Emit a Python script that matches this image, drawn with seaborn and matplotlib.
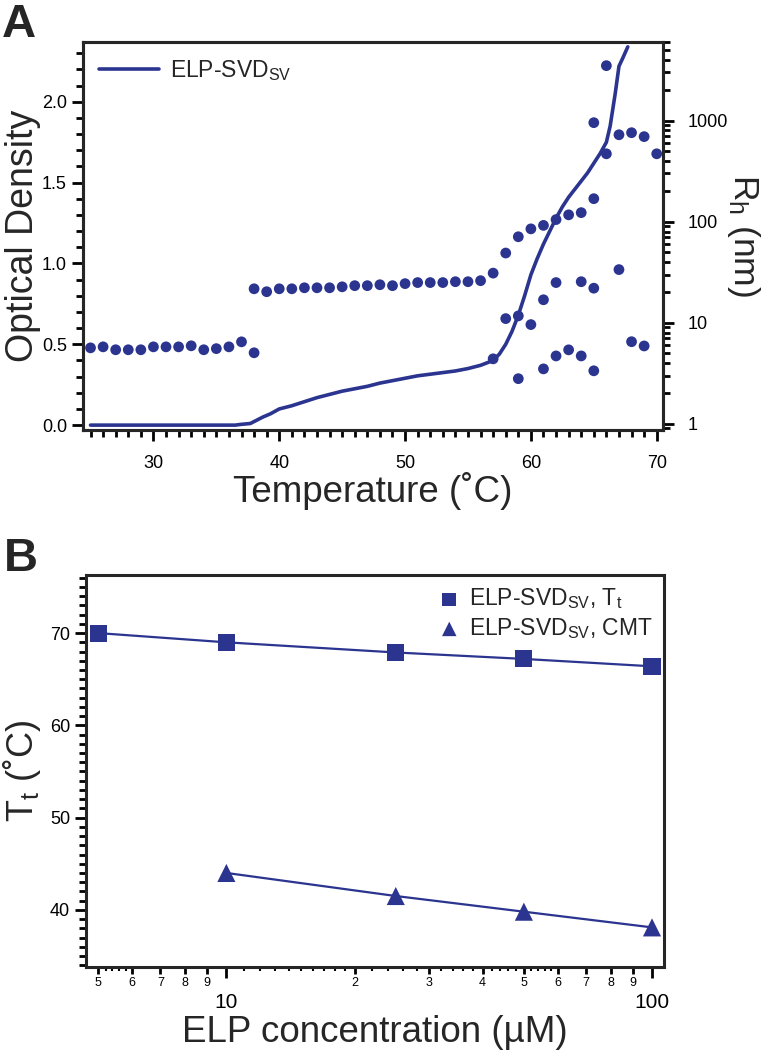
import numpy as np
import pandas as pd
import seaborn as sns
import matplotlib.pyplot as plt
from matplotlib.ticker import MultipleLocator, LogLocator, FixedLocator, NullFormatter, FuncFormatter

# panel A - optical density trace (left axis)
od_temp = [25, 36.5, 37, 37.7, 38.2, 38.7, 39.3, 40, 41, 42, 43, 44, 45, 46, 47, 48,
           49, 50, 51, 52, 53, 54, 55, 56, 57, 57.5, 58, 58.5, 59, 59.5, 60, 60.5,
           61, 61.5, 62, 62.5, 63, 63.5, 64, 64.5, 65, 65.5, 66, 66.3, 66.7, 67, 67.3, 67.7]
od_val = [0.0, 0.0, 0.005, 0.01, 0.03, 0.05, 0.07, 0.10, 0.12, 0.145, 0.17, 0.19, 0.21, 0.225,
          0.24, 0.26, 0.275, 0.29, 0.305, 0.315, 0.325, 0.335, 0.35, 0.37, 0.40, 0.44, 0.50,
          0.58, 0.68, 0.80, 0.93, 1.03, 1.12, 1.20, 1.28, 1.35, 1.41, 1.46, 1.51, 1.56, 1.62,
          1.68, 1.75, 1.85, 2.05, 2.22, 2.27, 2.34]

# panel A - hydrodynamic radius (right axis, nm)
rh_temp = list(range(25, 39)) + list(range(38, 58)) + [
    57, 58, 58, 59, 59, 59, 60, 60, 61, 61, 61, 62, 62, 62, 63, 63, 64, 64, 64,
    65, 65, 65, 65, 66, 66, 67, 67, 68, 68, 69, 69, 70]
rh_val = [5.65, 5.78, 5.41, 5.41, 5.41, 5.78, 5.78, 5.78, 5.92, 5.41, 5.55, 5.78, 6.48, 5.05,
          21.7, 20.3, 21.7, 21.7, 22.2, 22.2, 22.2, 22.7, 23.3, 23.3, 23.8, 23.3, 24.4, 25.0,
          25.0, 25.0, 25.5, 25.5, 26.1, 31.0,
          4.4, 49, 11, 71, 11.7, 2.8, 85, 9.6, 92, 16.9, 3.5, 105, 25, 4.7, 117, 5.4,
          123, 25.5, 4.7, 955, 169, 22, 3.35, 3500, 470, 725, 33.6, 760, 6.5, 695, 5.9, 470]

# panel B - transition temperatures
conc_tt = [5, 10, 25, 50, 100]
tt_val = [70.0, 69.0, 67.9, 67.2, 66.4]
conc_cmt = [10, 25, 50, 100]
cmt_val = [44.0, 41.5, 39.8, 38.1]

BLUE = '#2b3590'

sns.set_style('ticks')
plt.rcParams['font.family'] = ['Liberation Sans', 'DejaVu Sans']
plt.rcParams['mathtext.fontset'] = 'custom'
plt.rcParams['mathtext.rm'] = 'Liberation Sans'
plt.rcParams['mathtext.default'] = 'regular'
plt.rcParams['axes.linewidth'] = 2.2
plt.rcParams['xtick.color'] = 'black'
plt.rcParams['ytick.color'] = 'black'

fig = plt.figure(figsize=(7.64, 10.5), dpi=100)

# ---------------- panel A ----------------
ax = fig.add_axes([0.1086, 0.5905, 0.7592, 0.3695])
od = pd.DataFrame({'T': od_temp, 'OD': od_val})
sns.lineplot(data=od, x='T', y='OD', ax=ax, color=BLUE, lw=2.6,
             label='ELP-SVD$_{SV}$')
ax.set_xlim(24.4, 70.5)
ax.set_ylim(-0.03, 2.37)
ax.xaxis.set_major_locator(MultipleLocator(10))
ax.xaxis.set_minor_locator(MultipleLocator(1))
ax.yaxis.set_major_locator(MultipleLocator(0.5))
ax.yaxis.set_minor_locator(MultipleLocator(0.1))
ax.yaxis.set_major_formatter(FuncFormatter(lambda v, p: f'{v:.1f}'))
ax.tick_params(which='major', length=8, width=2, labelsize=13, direction='out')
ax.tick_params(which='minor', length=5, width=2, direction='out')
ax.tick_params(axis='x', which='major', pad=10)
ax.set_xlabel('Temperature (˚C)', fontsize=26.5, labelpad=0)
ax.set_ylabel('Optical Density', fontsize=27)
ax.yaxis.set_label_coords(-0.072, 0.5)
leg = ax.legend(loc='upper left', frameon=False, fontsize=16.5, handlelength=2.6,
                handletextpad=0.5, borderaxespad=0.3)

ax2 = ax.twinx()
rh = pd.DataFrame({'T': rh_temp, 'Rh': rh_val})
sns.scatterplot(data=rh, x='T', y='Rh', ax=ax2, color=BLUE, s=60, edgecolor='none')
ax2.set_yscale('log')
ax2.set_ylim(0.87, 6000)
ax2.yaxis.set_major_locator(LogLocator(base=10, numticks=10))
ax2.yaxis.set_minor_locator(LogLocator(base=10, subs=np.arange(2, 10), numticks=10))
ax2.yaxis.set_minor_formatter(NullFormatter())
ax2.yaxis.set_major_formatter(FuncFormatter(lambda v, p: f'{v:g}'))
ax2.tick_params(which='major', length=8, width=2, labelsize=13, pad=10)
ax2.tick_params(which='minor', length=5, width=2)
ax2.set_ylabel('R$_h$ (nm)', fontsize=25.5, rotation=270, va='bottom')
ax2.yaxis.set_label_coords(1.107, 0.5)
ax2.set_xlabel('')

# ---------------- panel B ----------------
bx = fig.add_axes([0.1126, 0.0790, 0.7565, 0.3734])
sns.lineplot(x=conc_tt, y=tt_val, ax=bx, color=BLUE, lw=1.6)
sns.lineplot(x=conc_cmt, y=cmt_val, ax=bx, color=BLUE, lw=1.6)
sns.scatterplot(x=conc_tt, y=tt_val, ax=bx, color=BLUE, marker='s', s=150,
                edgecolor='none', label='ELP-SVD$_{SV}$, T$_t$')
sns.scatterplot(x=conc_cmt, y=cmt_val, ax=bx, color=BLUE, marker='^', s=170,
                edgecolor='none', label='ELP-SVD$_{SV}$, CMT')
bx.set_xscale('log')
bx.set_xlim(4.68, 106.7)
bx.set_ylim(33.8, 76.3)
bx.yaxis.set_major_locator(MultipleLocator(10))
bx.yaxis.set_minor_locator(MultipleLocator(1))
bx.xaxis.set_major_locator(FixedLocator([10, 100]))
bx.xaxis.set_major_formatter(FuncFormatter(lambda v, p: f'{v:g}'))
minor_x = [5, 6, 7, 8, 9, 20, 30, 40, 50, 60, 70, 80, 90]
bx.xaxis.set_minor_locator(FixedLocator(minor_x))
bx.xaxis.set_minor_formatter(FuncFormatter(lambda v, p: f'{v / 10 ** np.floor(np.log10(v)):g}'))
bx.tick_params(which='major', length=8, width=2, labelsize=13, direction='out')
bx.tick_params(which='minor', length=5, width=2, direction='out')
bx.tick_params(axis='x', which='major', pad=11, labelsize=15)
bx.tick_params(axis='x', which='minor', pad=2, labelsize=9)
# tiny extra ticks like the original log axis
sub = bx.secondary_xaxis('bottom')
sub.set_xticks([5.2, 5.4, 5.6, 5.8, 11, 12, 13, 14, 15, 16, 17, 18, 19,
                22, 24, 26, 28, 32, 34, 36, 38, 42, 44, 46, 48, 52, 54, 56, 58])
sub.set_xticklabels([])
sub.tick_params(length=3, width=1.5)
sub.spines['bottom'].set_visible(False)
bx.set_xlabel('ELP concentration (µM)', fontsize=26.5, labelpad=2)
bx.set_ylabel('T$_t$ (˚C)', fontsize=26)
bx.yaxis.set_label_coords(-0.075, 0.5)
bx.legend(loc='upper right', frameon=False, fontsize=16.5, handlelength=1.0,
          handletextpad=0.35, labelspacing=0.2, borderaxespad=0.1, markerscale=0.8)

fig.text(0.002, 0.997, 'A', fontsize=34, fontweight='bold', va='top', ha='left')
fig.text(0.005, 0.489, 'B', fontsize=34, fontweight='bold', va='top', ha='left')

fig.savefig('out.png', dpi=100, facecolor='white')
